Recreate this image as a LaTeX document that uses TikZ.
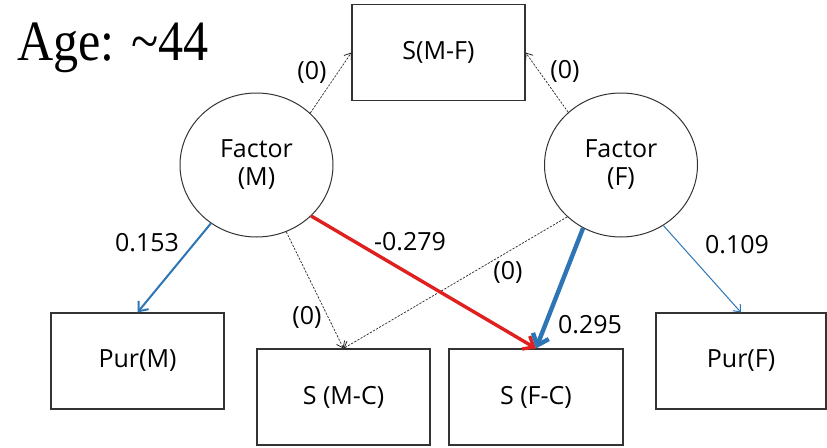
\documentclass[tikz,border=0pt]{standalone}
\usepackage{fontspec}
\setmainfont{Open Sans}
\newfontfamily\agefont{Liberation Serif}
\usetikzlibrary{arrows.meta,shapes.geometric}
\definecolor{redarr}{HTML}{E0201E}
\definecolor{bluearr}{HTML}{2E75B6}
\definecolor{edgegray}{HTML}{333333}
\begin{document}
\begin{tikzpicture}[x=1pt,y=-1pt,
  every node/.style={font=\fontsize{25}{28}\selectfont, text=black},
  box/.style={draw=edgegray, line width=1.1pt, inner sep=0pt, minimum height=96pt},
  factor/.style={ellipse, draw=edgegray, line width=1pt, inner sep=0pt,
    minimum width=153pt, minimum height=144pt, align=center},
  lbl/.style={inner sep=0pt},
  zeroarr/.style={draw=black!85, line width=0.7pt, dash pattern=on 2.2pt off 1.4pt,
    -{Straight Barb[length=6pt,width=9pt,line width=0.8pt]}},
  redpath/.style={draw=redarr, line width=3.4pt, -{Straight Barb[length=9pt,width=15pt]}},
  bluethick/.style={draw=bluearr, line width=4.4pt, -{Straight Barb[length=10pt,width=17pt]}},
  bluemid/.style={draw=bluearr, line width=2pt, -{Straight Barb[length=8pt,width=13pt]}},
  bluethin/.style={draw=bluearr, line width=1pt, -{Straight Barb[length=6pt,width=10pt]}}]
\useasboundingbox[fill=white] (0,0) rectangle (827,447);

% title
\node[lbl, anchor=base west, xscale=0.88, font=\agefont\fontsize{57}{60}\selectfont] (age) at (17,60) {Age: \textasciitilde 44};

% boxes
\node[box, minimum width=173pt] (smf) at (438.5,52.5) {S(M-F)};
\node[box, minimum width=173pt] (pm)  at (137.5,361) {Pur(M)};
\node[box, minimum width=173pt] (smc) at (343.5,397) {S (M-C)};
\node[box, minimum width=174pt] (sfc) at (536,397) {S (F-C)};
\node[box, minimum width=170pt] (pf)  at (741,361) {Pur(F)};

% factors
\node[factor] (fm) at (256.5,165) {Factor\\(M)};
\node[factor] (ff) at (621,165) {Factor\\(F)};

% connectors
\draw[zeroarr] (fm.44) -- (smf.west);
\draw[zeroarr] (ff.135) -- (smf.east);
\draw[zeroarr] (fm.-66) -- (smc.north);
\draw[zeroarr] (ff.224) -- (smc.north);
\draw[bluemid] (fm.232) -- (pm.north);
\draw[redpath] (fm.-43) -- (sfc.north);
\draw[bluethick] (ff.239) -- (sfc.north);
\draw[bluethin] (ff.-55) -- (pf.north);

% labels
\node[lbl] (l1) at (312,72) {(0)};
\node[lbl] (l2) at (565,71) {(0)};
\node[lbl] (l3) at (307,317) {(0)};
\node[lbl] (l4) at (508,272) {(0)};
\node[lbl] (l5) at (147,243) {0.153};
\node[lbl] (l6) at (410,242) {-0.279};
\node[lbl] (l7) at (590,325) {0.295};
\node[lbl] (l8) at (737,245) {0.109};
\end{tikzpicture}
\end{document}
